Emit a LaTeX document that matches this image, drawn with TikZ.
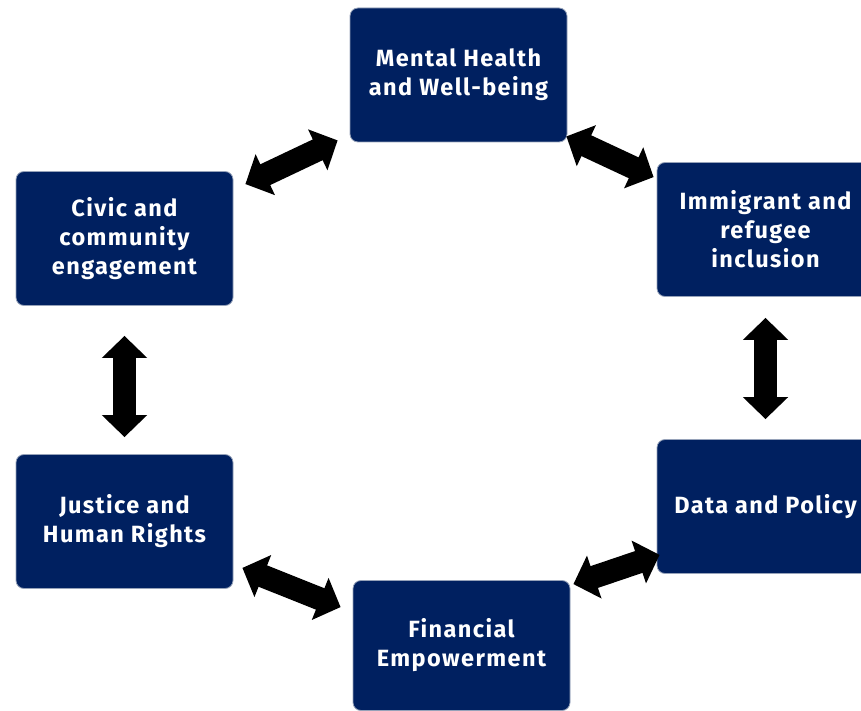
\documentclass[tikz,border=0pt]{standalone}
\usepackage{fontspec}
\setmainfont{Fira Sans}[LetterSpace=6]
\usepackage{tikz}
\usetikzlibrary{arrows.meta}

\definecolor{navybox}{RGB}{0,32,96}
\definecolor{boxrim}{RGB}{150,162,185}

\begin{document}
\begin{tikzpicture}[x=1pt, y=-1pt,
    topic/.style={rectangle, rounded corners=8pt, fill=navybox, draw=boxrim,
        line width=0.8pt, minimum width=217pt, minimum height=134pt,
        inner sep=0pt, align=center, text=white,
        font=\bfseries\fontsize{23.5}{29}\selectfont},
    twoway/.style={line width=23pt,
        {Triangle[width=44pt,length=22pt]}-{Triangle[width=44pt,length=22pt]}}]

    \useasboundingbox (0,0) rectangle (861,711);

    \node[topic] (mental)    at (458.5, 75)   {Mental Health\\and Well-being};
    \node[topic] (civic)     at (124.5, 238.5) {Civic and\\community\\engagement};
    \node[topic] (immigrant) at (765.5, 229.5) {Immigrant and\\refugee\\inclusion};
    \node[topic] (justice)   at (124.5, 521.5) {Justice and\\Human Rights};
    \node[topic] (data)      at (765.5, 506.5) {Data and Policy};
    \node[topic, minimum height=130pt] (financial) at (461.5, 645.5) {Financial\\Empowerment};

    \path[twoway]
        ([shift={(12,13)}]civic.north east) edge ([shift={(-12,-2)}]mental.south west)
        ([shift={(-1,-6)}]mental.south east) edge ([shift={(-3,15)}]immigrant.north west)

        ([shift={(0,21)}]immigrant.south) edge ([shift={(0,-20)}]data.north)
        ([shift={(0,30)}]civic.south) edge ([shift={(0,-17)}]justice.north)

        ([shift={(9,-21)}]justice.south east) edge ([shift={(-12,27)}]financial.north west)
        ([shift={(3,4)}]financial.north east) edge ([shift={(3,-19)}]data.south west);

\end{tikzpicture}
\end{document}
